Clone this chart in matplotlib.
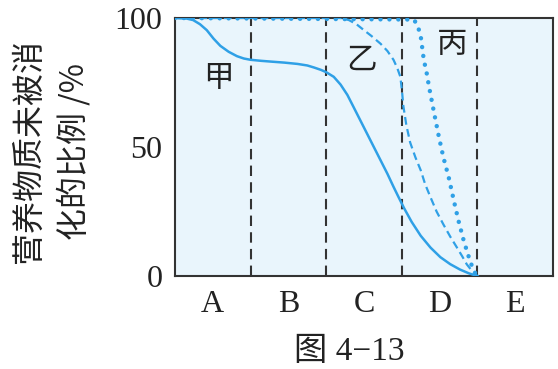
import matplotlib
matplotlib.use("Agg")
import matplotlib.pyplot as plt

# -----------------------
# DATA
stages = ['A', 'B', 'C', 'D', 'E']
stage_pos = [0.5, 1.5, 2.5, 3.5, 4.5]
bounds = [1, 2, 3, 4]
y_ticks = [0, 50, 100]

# 甲 (solid)
jia_x = [0, 0.15, 0.24, 0.33, 0.42, 0.51, 0.6, 0.71, 0.82, 0.91, 1.0, 1.14, 1.27,
         1.45, 1.62, 1.75, 1.84, 1.93, 2.0, 2.1, 2.19, 2.28, 2.36, 2.45, 2.54, 2.63,
         2.72, 2.81, 2.89, 2.96, 3.03, 3.13, 3.25, 3.38, 3.51, 3.64, 3.77, 3.89, 4.0]
jia_y = [100, 99.8, 99.2, 97.6, 95.3, 92.0, 89.2, 86.9, 85.2, 84.3, 83.8, 83.4, 83.1,
         82.7, 82.2, 81.6, 80.8, 79.9, 79.0, 77.2, 74.2, 70.2, 65.6, 60.4, 55.2, 50.0,
         44.8, 39.6, 34.6, 30.4, 26.3, 21.0, 15.6, 11.0, 7.3, 4.6, 2.5, 1.0, 0]

# 乙 (dashed)
yi_x = [0, 2.19, 2.3, 2.4, 2.49, 2.6, 2.72, 2.81, 2.89, 2.94, 2.98, 3.0, 3.02,
        3.06, 3.11, 3.18, 3.25, 3.31, 3.38, 3.46, 3.55, 3.64, 3.73, 3.8, 3.86, 3.92, 3.97, 4.0]
yi_y = [100, 100, 99.2, 97.6, 95.5, 93.0, 90.0, 87.2, 83.8, 80.6, 77.3, 72.5, 66.0,
        58.5, 51.8, 46.0, 41.0, 35.5, 30.5, 25.0, 20.0, 15.3, 11.0, 7.6, 4.5, 2.3, 0.6, 0]

# 丙 (dotted)
bing_x = [0, 3.16, 3.21, 3.25, 3.27, 3.29, 3.33, 3.36, 3.42, 3.49, 3.55, 3.62,
          3.69, 3.75, 3.82, 3.89, 3.95, 4.0]
bing_y = [100, 99.4, 97.0, 93.0, 88.5, 84.0, 78.5, 73.4, 64.3, 54.0, 46.0, 38.3,
          29.0, 21.4, 13.6, 7.0, 2.0, 0]

curve_labels = ['甲', '乙', '丙']
label_x = [0.57, 2.47, 3.66]
label_y = [76.7, 83.8, 89.6]

blue = '#2fa0e6'
dark = '#333333'

fig = plt.figure(figsize=(5.58, 3.69), dpi=100)
ax = fig.add_axes([175 / 558, 1 - 276 / 369, (553 - 175) / 558, (276 - 18) / 369])
ax.set_facecolor('#e9f5fc')

# stage boundaries
for b in bounds:
    ax.axvline(b, color=dark, lw=1.5, linestyle=(0, (5, 3)), zorder=1)

ax.plot(jia_x, jia_y, color=blue, lw=1.8, zorder=3)
ax.plot(yi_x, yi_y, color=blue, lw=1.6, linestyle=(0, (3.5, 2)), zorder=3)
ax.plot(bing_x, bing_y, color=blue, lw=3.2, linestyle=(0, (0.01, 2.0)),
        dash_capstyle='round', zorder=3)

for t, x, y in zip(curve_labels, label_x, label_y):
    ax.text(x, y, t, fontsize=22, family=['Noto Sans CJK SC'], ha='center', va='center',
            color='#222222')

ax.set_xlim(0, 5)
ax.set_ylim(0, 100)

# ticks
ax.set_xticks(bounds)
ax.set_xticklabels([])
ax.set_xticks(stage_pos, minor=True)
ax.set_xticklabels(stages, minor=True, fontsize=23, family='Liberation Serif', color='#222222')
ax.tick_params(axis='x', which='major', direction='in', length=5, width=1.3, color=dark)
ax.tick_params(axis='x', which='minor', length=0, pad=10)
ax.set_yticks(y_ticks)
ax.set_yticklabels([str(v) for v in y_ticks], fontsize=23, family='Liberation Serif',
                   color='#222222')
ax.tick_params(axis='y', length=0, pad=9)

for s in ax.spines.values():
    s.set_color(dark)
    s.set_linewidth(1.5)

fig.text(52 / 558, 1 - 151 / 369, '营养物质未被消\n化的比例 /%', rotation=90,
         fontsize=23, family=['Noto Sans CJK SC', 'DejaVu Sans'], ha='center', va='center',
         multialignment='center', linespacing=1.45, color='#222222')

fig.text(349 / 558, 1 - 352 / 369, '图 4−13', fontsize=24,
         family=['Liberation Serif', 'Noto Sans CJK SC'], ha='center', va='center',
         color='#222222')

fig.savefig('out.png', dpi=100)
